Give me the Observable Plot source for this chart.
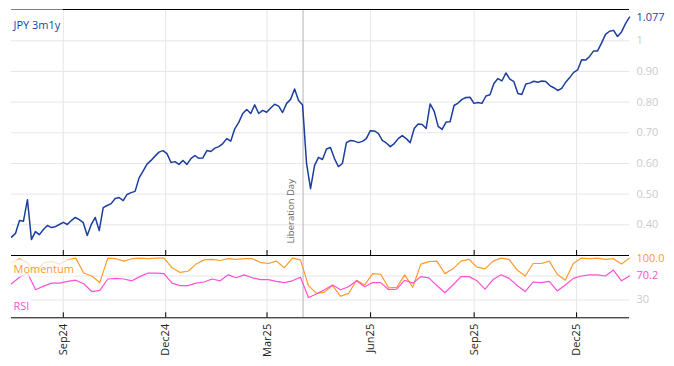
<!DOCTYPE html>
<html><head><meta charset="utf-8">
<script src="https://cdn.jsdelivr.net/npm/d3@7"></script>
<script src="https://cdn.jsdelivr.net/npm/@observablehq/plot@0.6"></script>
<style>
body{margin:0;background:#fff;}
#chart svg{display:block;overflow:visible;}
</style></head><body><div id="chart"></div>
<script>
// ---- data ----
const startDate = "2024-07-17";
const endDate = "2026-01-17";
const seriesName = "JPY 3m1y";
const jpy = [
  0.360, 0.372, 0.414, 0.412, 0.482, 0.352, 0.378, 0.368, 0.385, 0.398,
  0.391, 0.394, 0.401, 0.408, 0.401, 0.414, 0.424, 0.417, 0.407, 0.365,
  0.401, 0.424, 0.381, 0.456, 0.463, 0.469, 0.486, 0.489, 0.479, 0.499,
  0.505, 0.509, 0.553, 0.575, 0.598, 0.610, 0.624, 0.637, 0.642, 0.632,
  0.603, 0.606, 0.597, 0.610, 0.597, 0.616, 0.626, 0.617, 0.618, 0.642,
  0.639, 0.650, 0.655, 0.665, 0.681, 0.673, 0.713, 0.734, 0.763, 0.776,
  0.763, 0.791, 0.763, 0.773, 0.767, 0.781, 0.793, 0.787, 0.766, 0.796,
  0.809, 0.843, 0.805, 0.791, 0.600, 0.518, 0.593, 0.620, 0.613, 0.647,
  0.652, 0.616, 0.590, 0.600, 0.668, 0.675, 0.673, 0.668, 0.672, 0.681,
  0.707, 0.706, 0.698, 0.675, 0.667, 0.655, 0.665, 0.681, 0.691, 0.681,
  0.668, 0.714, 0.729, 0.727, 0.714, 0.794, 0.771, 0.721, 0.711, 0.735,
  0.736, 0.789, 0.797, 0.809, 0.815, 0.816, 0.796, 0.799, 0.796, 0.820,
  0.824, 0.861, 0.877, 0.869, 0.895, 0.875, 0.867, 0.828, 0.825, 0.859,
  0.862, 0.868, 0.865, 0.869, 0.867, 0.854, 0.847, 0.838, 0.845, 0.865,
  0.880, 0.897, 0.905, 0.938, 0.937, 0.949, 0.967, 0.967, 0.993, 1.021,
  1.031, 1.034, 1.014, 1.029, 1.056, 1.077
];
const momentum = [
  92, 99, 92, 75, 92, 94, 90, 97, 100, 75,
  70, 59, 100, 99, 95, 99, 100, 99, 100, 100,
  84, 76, 78, 90, 97, 98, 96, 99, 98, 99,
  99, 93, 91, 95, 84, 100, 97, 54, 41, 43,
  54, 36, 41, 63, 55, 74, 73, 50, 51, 72,
  51, 90, 94, 95, 74, 82, 95, 98, 85, 82,
  95, 100, 98, 80, 70, 91, 91, 95, 73, 63,
  91, 100, 99, 100, 98, 99, 90, 100
];
const rsi = [
  57, 68, 75, 47, 53, 58, 58, 61, 63, 57,
  44, 46, 65, 66, 65, 62, 69, 75, 75, 74,
  58, 54, 54, 58, 60, 65, 62, 72, 67, 72,
  67, 64, 64, 61, 59, 62, 68, 34, 40, 47,
  55, 47, 52, 62, 52, 59, 59, 47, 48, 63,
  58, 69, 67, 54, 42, 55, 69, 69, 62, 48,
  64, 72, 66, 54, 44, 60, 59, 61, 45, 55,
  66, 70, 72, 72, 70, 80, 62, 70.2
];
const tickDates = ["2024-09-01", "2024-12-01", "2025-03-01", "2025-06-01", "2025-09-01", "2025-12-01"];
const topTicks = [0.4, 0.5, 0.6, 0.7, 0.8, 0.9, 1];
const bottomGrid = [30, 70];
const bottomTickLabels = [30];
const eventDate = "2025-04-02";
const eventLabel = "Liberation Day";
const momentumLabel = "Momentum";
const rsiLabel = "RSI";

// ---- styling ----
const blue = "#1b3f9f", orange = "#ff9a2b", magenta = "#ff4fd6";
const gridColor = "#e6e6e6", axisGray = "#cbcbcb";
const font = "'Open Sans', sans-serif";
const W = 674, mL = 11, mR = 45;
const topDomain = [0.3, 1.102];
const botDomain = [0, 102.7];

const t0 = new Date(startDate), t1 = new Date(endDate);
const spread = vals => vals.map((v, i) => ({date: new Date(+t0 + i * (t1 - t0) / (vals.length - 1)), value: v}));
const jpyData = spread(jpy), momData = spread(momentum), rsiData = spread(rsi);
const ticks = tickDates.map(d => new Date(d));
const ev = new Date(eventDate);
const fmtMonth = d3.utcFormat("%b%y");

const topH = 256, topMT = 9, topMB = 1;
const topPlot = Plot.plot({
  width: W, height: topH, marginTop: topMT, marginBottom: topMB, marginLeft: mL, marginRight: mR,
  style: {fontFamily: font, fontSize: "11px", overflow: "visible", background: "transparent"},
  x: {type: "utc", domain: [t0, t1], axis: null},
  y: {domain: topDomain, axis: null},
  marks: [
    Plot.ruleY(topTicks, {stroke: gridColor}),
    Plot.ruleX(ticks, {stroke: gridColor}),
    Plot.ruleX([ev], {stroke: "#b3b3b3"}),
    Plot.text([ev], {x: d => d, text: () => eventLabel, frameAnchor: "bottom", rotate: -90,
      textAnchor: "start", lineAnchor: "middle", dx: -12, dy: -12, fill: "#6a6a6a", fontSize: 9.5}),
    Plot.line(jpyData, {x: "date", y: "value", stroke: blue, strokeWidth: 1.5}),
    Plot.axisY(topTicks, {anchor: "right", tickSize: 0, tickPadding: 7, label: null,
      tickFormat: d => d === 1 ? "1" : d3.format(".2f")(d), color: axisGray}),
    Plot.text(jpyData.slice(-1), {x: "date", y: "value", text: d => d3.format(".3f")(d.value),
      textAnchor: "start", lineAnchor: "middle", dx: 7, fill: blue}),
    Plot.tickX(ticks, {stroke: "#000", insetTop: topH - topMT - topMB - 5}),
    Plot.ruleY([topDomain[1]], {stroke: "#000"}),
    Plot.ruleY([topDomain[0]], {stroke: "#000"}),
    Plot.text([seriesName], {frameAnchor: "top-left", textAnchor: "start", lineAnchor: "middle", dx: 2, dy: 16, fill: blue})
  ]
});

const botH = 110, botMT = 0, botMB = 48.7;
const botPlot = Plot.plot({
  width: W, height: botH, marginTop: botMT, marginBottom: botMB, marginLeft: mL, marginRight: mR,
  style: {fontFamily: font, fontSize: "11px", overflow: "visible", background: "transparent"},
  x: {type: "utc", domain: [t0, t1], axis: null},
  y: {domain: botDomain, axis: null},
  marks: [
    Plot.ruleY(bottomGrid, {stroke: gridColor}),
    Plot.ruleX(ticks, {stroke: gridColor}),
    Plot.ruleX([ev], {stroke: "#b3b3b3"}),
    Plot.line(momData, {x: "date", y: "value", stroke: orange, strokeWidth: 1.2}),
    Plot.line(rsiData, {x: "date", y: "value", stroke: magenta, strokeWidth: 1.2}),
    Plot.axisY(bottomTickLabels, {anchor: "right", tickSize: 0, tickPadding: 7, label: null, color: axisGray}),
    Plot.text(momData.slice(-1), {x: "date", y: "value", text: d => d3.format(".1f")(d.value),
      textAnchor: "start", lineAnchor: "middle", dx: 7, fill: orange}),
    Plot.text(rsiData.slice(-1), {x: "date", y: "value", text: d => d3.format(".1f")(d.value),
      textAnchor: "start", lineAnchor: "middle", dx: 7, fill: magenta}),
    Plot.tickX(ticks, {stroke: "#000", insetTop: botH - botMT - botMB - 5}),
    Plot.ruleY([botDomain[0]], {stroke: "#000"}),
    Plot.axisX(ticks, {anchor: "bottom", tickSize: 0, tickPadding: 6, tickRotate: -90, label: null,
      tickFormat: fmtMonth, color: "#222", fontSize: 11}),
    Plot.text([momentumLabel], {frameAnchor: "top-left", textAnchor: "start", lineAnchor: "middle", dx: 2, dy: 12.5, fill: orange}),
    Plot.text([rsiLabel], {frameAnchor: "bottom-left", textAnchor: "start", lineAnchor: "middle", dx: 2, dy: -11, fill: magenta})
  ]
});

const host = document.getElementById("chart");
host.appendChild(topPlot);
host.appendChild(botPlot);

// label backgrounds (white boxes behind legend-like labels)
function boxBehind(svg, label, pad, opacity, toFrameLeft, toTop) {
  const t = Array.from(svg.querySelectorAll("text")).find(e => e.textContent === label);
  if (!t) return;
  const s = svg.getBoundingClientRect(), b = t.getBoundingClientRect();
  const x0 = toFrameLeft ? mL : b.left - s.left - pad;
  const y0 = toTop != null ? toTop : b.top - s.top - pad;
  const x1 = b.right - s.left + pad, y1 = b.bottom - s.top + pad;
  const r = document.createElementNS("http://www.w3.org/2000/svg", "rect");
  r.setAttribute("x", x0); r.setAttribute("y", y0);
  r.setAttribute("width", x1 - x0); r.setAttribute("height", y1 - y0);
  r.setAttribute("fill", "#fff"); r.setAttribute("fill-opacity", opacity);
  const g = t.parentNode;
  g.parentNode.insertBefore(r, g);
}
boxBehind(topPlot, seriesName, 2, 1, true, topMT + 0.5);
boxBehind(botPlot, momentumLabel, 1, 0.75, true, null);
boxBehind(botPlot, rsiLabel, 1, 1, true, null);
</script></body></html>
